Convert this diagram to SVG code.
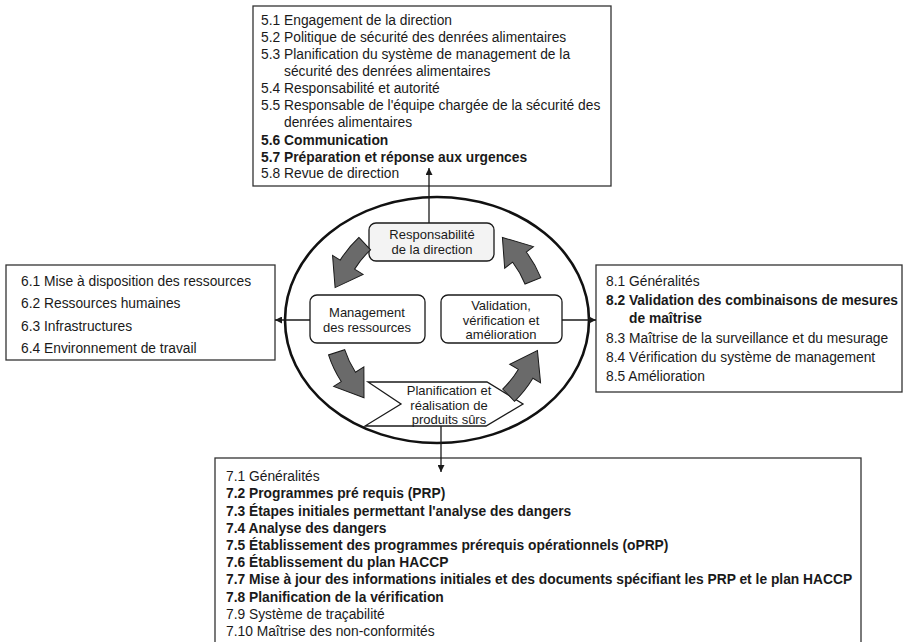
<svg xmlns="http://www.w3.org/2000/svg" xmlns:xlink="http://www.w3.org/1999/xlink" width="904" height="642" viewBox="0 0 904 642">
  <style>
    text { font-family: "Liberation Sans", Arial, sans-serif; font-size: 13.8px; fill: #1a1a1a; }
    .b { font-weight: bold; }
    .c { text-anchor: middle; font-size: 13px; }
    .box { fill: #ffffff; stroke: #333333; stroke-width: 1.3; }
    .node { fill: #ffffff; stroke: #1a1a1a; stroke-width: 1.3; }
    .conn { stroke: #1a1a1a; stroke-width: 1.3; fill: none; }
    .swoosh { fill: #6a6a6a; stroke: #1a1a1a; stroke-width: 1; }
  </style>
  <defs>
    <marker id="arr" viewBox="0 0 10 10" refX="10" refY="5" markerWidth="7" markerHeight="7" markerUnits="userSpaceOnUse" orient="auto">
      <path d="M0,0 L10,5 L0,10 Z" fill="#1a1a1a"/>
    </marker>
    <!-- curved cycle arrow, tail at angle 0, head turning anticlockwise -->
    <path id="swoosh" d="M113,0 A113,113 0 0 0 109.15,-29.25 L117.84,-31.57 L92.5,-51.7 L83.07,-22.26 L92.73,-24.85 A96,96 0 0 1 96,0 Z"/>
  </defs>

  <rect width="904" height="642" fill="#ffffff"/>

  <g id="cycle">
    <ellipse cx="437" cy="320" rx="152" ry="123" fill="#ffffff" stroke="#111111" stroke-width="2.6"/>
  </g>

  <g id="n-responsabilite">
    <rect x="369" y="223" width="125" height="38" rx="7" fill="#f3f3f3" stroke="#1a1a1a" stroke-width="1.3"/>
    <text class="c" x="432" y="239">Responsabilité</text>
    <text class="c" x="432" y="254">de la direction</text>
  </g>

  <g id="n-management">
    <rect class="node" x="310" y="295" width="115" height="48" rx="7"/>
    <text class="c" x="367" y="317">Management</text>
    <text class="c" x="367" y="332">des ressources</text>
  </g>

  <g id="n-validation">
    <rect class="node" x="441" y="295" width="121" height="48" rx="7"/>
    <text class="c" x="501" y="310">Validation,</text>
    <text class="c" x="501" y="324.5">vérification et</text>
    <text class="c" x="501" y="339">amélioration</text>
  </g>

  <g id="n-planification">
    <path class="node" d="M368,382 L487,382 L523,404 L486,426 L365,426 L401,404 Z"/>
    <text class="c" x="449" y="395">Planification et</text>
    <text class="c" x="449" y="409.5">réalisation de</text>
    <text class="c" x="449" y="424">produits sûrs</text>
  </g>

  <!-- cycle arrows between the four processes -->
  <g id="cycle-arrows">
    <use href="#swoosh" class="swoosh" transform="translate(436,320) rotate(227)"/>
    <use href="#swoosh" class="swoosh" transform="translate(436,320) rotate(162)"/>
    <use href="#swoosh" class="swoosh" transform="translate(436,320) rotate(46)"/>
    <use href="#swoosh" class="swoosh" transform="translate(436,320) rotate(338)"/>
  </g>

  <g id="box-5">
    <rect class="box" x="253" y="6" width="358" height="180"/>
    <text x="261" y="25">5.1 Engagement de la direction</text>
    <text x="261" y="42">5.2 Politique de sécurité des denrées alimentaires</text>
    <text x="261" y="59">5.3 Planification du système de management de la</text>
    <text x="284" y="76">sécurité des denrées alimentaires</text>
    <text x="261" y="93">5.4 Responsabilité et autorité</text>
    <text x="261" y="110">5.5 Responsable de l'équipe chargée de la sécurité des</text>
    <text x="284" y="127">denrées alimentaires</text>
    <text class="b" x="261" y="145">5.6 Communication</text>
    <text class="b" x="261" y="162">5.7 Préparation et réponse aux urgences</text>
    <text x="261" y="178">5.8 Revue de direction</text>
  </g>

  <g id="box-6">
    <rect class="box" x="6" y="265" width="269" height="95"/>
    <text x="21" y="286">6.1 Mise à disposition des ressources</text>
    <text x="21" y="308">6.2 Ressources humaines</text>
    <text x="21" y="331">6.3 Infrastructures</text>
    <text x="21" y="353">6.4 Environnement de travail</text>
  </g>

  <g id="box-8">
    <rect class="box" x="596" y="265" width="306" height="127"/>
    <text x="606" y="286">8.1 Généralités</text>
    <text class="b" x="606" y="305" textLength="292" lengthAdjust="spacingAndGlyphs">8.2 Validation des combinaisons de mesures</text>
    <text class="b" x="629" y="323">de maîtrise</text>
    <text x="606" y="343">8.3 Maîtrise de la surveillance et du mesurage</text>
    <text x="606" y="362">8.4 Vérification du système de management</text>
    <text x="606" y="381">8.5 Amélioration</text>
  </g>

  <g id="box-7">
    <rect class="box" x="215" y="458" width="646" height="200"/>
    <text x="226" y="481">7.1 Généralités</text>
    <text class="b" x="226" y="498">7.2 Programmes pré requis (PRP)</text>
    <text class="b" x="226" y="515.5">7.3 Étapes initiales permettant l'analyse des dangers</text>
    <text class="b" x="226" y="532.5">7.4 Analyse des dangers</text>
    <text class="b" x="226" y="550">7.5 Établissement des programmes prérequis opérationnels (oPRP)</text>
    <text class="b" x="226" y="567">7.6 Établissement du plan HACCP</text>
    <text class="b" x="226" y="584">7.7 Mise à jour des informations initiales et des documents spécifiant les PRP et le plan HACCP</text>
    <text class="b" x="226" y="601.5">7.8 Planification de la vérification</text>
    <text x="226" y="618.5">7.9 Système de traçabilité</text>
    <text x="226" y="636">7.10 Maîtrise des non-conformités</text>
  </g>

  <!-- links from each process to its clause list -->
  <g id="connectors">
    <line class="conn" x1="429" y1="223" x2="429" y2="168" marker-end="url(#arr)"/>
    <line class="conn" x1="310" y1="320" x2="275" y2="320" marker-end="url(#arr)"/>
    <line class="conn" x1="562" y1="320" x2="596" y2="320" marker-end="url(#arr)"/>
    <line class="conn" x1="441" y1="426" x2="441" y2="472" marker-end="url(#arr)"/>
  </g>
</svg>
